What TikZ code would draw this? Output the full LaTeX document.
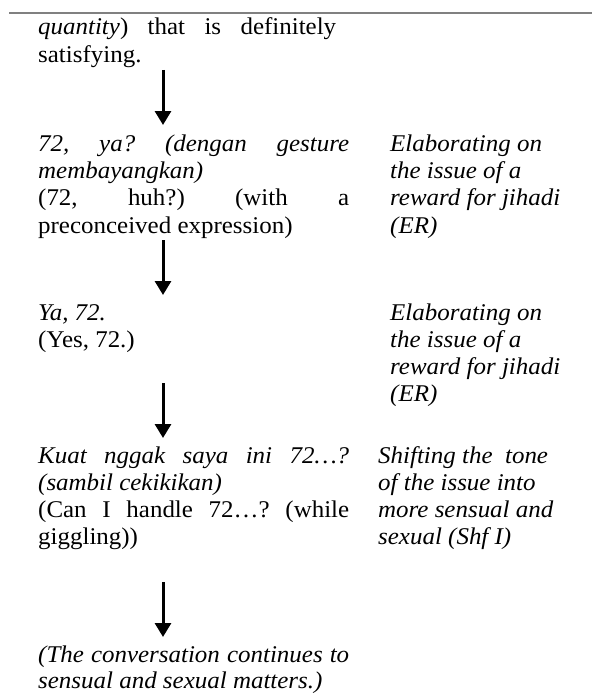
\documentclass[tikz,border=0pt]{standalone}
\usepackage{fontspec}
\setmainfont[FakeStretch=1.04]{Liberation Serif}
\usetikzlibrary{arrows.meta}
\definecolor{rulegray}{RGB}{128,128,128}
\begin{document}
\frenchspacing
\begin{tikzpicture}[x=1pt,y=-1pt,
  txt/.style={anchor=base west, inner sep=0pt, font=\fontsize{24}{27.3}\selectfont\frenchspacing},
  flow/.style={-{Triangle[width=16pt,length=14pt]}, line width=3pt},
  toprule/.style={draw=rulegray, line width=2pt}
]
\useasboundingbox (0,0) rectangle (592,693);
% top rule
\coordinate (ruleL) at (9,13);
\coordinate (ruleR) at (592,13);
\draw[toprule] (ruleL) -- (ruleR);

% block A
\node[txt] (a1) at (38,35) {\makebox[298pt][s]{\textit{quantity}) that is definitely}};
\node[txt] (a2) at (38,63) {satisfying.};

% block B
\node[txt] (b1) at (38,151) {\makebox[311pt][s]{\itshape 72, ya? (dengan gesture}};
\node[txt] (b2) at (38,178) {\itshape membayangkan)};
\node[txt] (b3) at (38,205) {\makebox[311pt][s]{(72, huh?) (with a}};
\node[txt] (b4) at (38,233) {preconceived expression)};
\node[txt] (rb1) at (390,151) {\itshape Elaborating on};
\node[txt] (rb2) at (390,178) {\itshape the issue of a};
\node[txt] (rb3) at (390,205) {\itshape reward for jihadi};
\node[txt] (rb4) at (390,233) {\itshape (ER)};

% block C
\node[txt] (c1) at (38,320) {\itshape Ya, 72.};
\node[txt] (c2) at (38,347) {(Yes, 72.)};
\node[txt] (rc1) at (390,320) {\itshape Elaborating on};
\node[txt] (rc2) at (390,347) {\itshape the issue of a};
\node[txt] (rc3) at (390,374) {\itshape reward for jihadi};
\node[txt] (rc4) at (390,401) {\itshape (ER)};

% block D
\node[txt] (d1) at (38,463) {\makebox[311pt][s]{\itshape Kuat nggak saya ini 72…?}};
\node[txt] (d2) at (38,490) {\itshape (sambil cekikikan)};
\node[txt] (d3) at (38,517) {\makebox[311pt][s]{(Can I handle 72…? (while}};
\node[txt] (d4) at (38,544) {giggling))};
\node[txt] (rd1) at (378,463) {\itshape Shifting the\ \ tone};
\node[txt] (rd2) at (378,490) {\itshape of the issue into};
\node[txt] (rd3) at (378,517) {\itshape more sensual and};
\node[txt] (rd4) at (378,544) {\itshape sexual (Shf I)};

% block E
\node[txt] (e1) at (38,662) {\makebox[311pt][s]{\itshape (The conversation continues to}};
\node[txt] (e2) at (38,688) {\itshape sensual and sexual matters.)};

% arrows
\coordinate (s1) at (163,70);  \coordinate (t1) at (163,125);
\coordinate (s2) at (163,240); \coordinate (t2) at (163,295);
\coordinate (s3) at (163,383); \coordinate (t3) at (163,438);
\coordinate (s4) at (163,582); \coordinate (t4) at (163,637);
\draw[flow] (s1) -- (t1);
\draw[flow] (s2) -- (t2);
\draw[flow] (s3) -- (t3);
\draw[flow] (s4) -- (t4);
\end{tikzpicture}
\end{document}
